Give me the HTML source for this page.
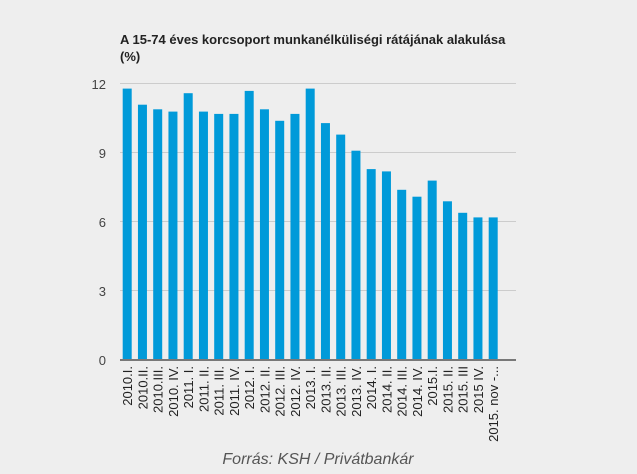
<!DOCTYPE html>
<html><head><meta charset="utf-8"><style>
html,body{margin:0;padding:0;background:#eeeeee;}
</style></head><body>
<svg width="637" height="469" xmlns="http://www.w3.org/2000/svg" font-family="Liberation Sans, Arial, sans-serif">
<rect width="637" height="469" fill="#eeeeee"/>
<text x="120" y="44" font-size="13" font-weight="bold" fill="#222">A 15-74 éves korcsoport munkanélküliségi rátájának alakulása</text>
<text x="120" y="61" font-size="13" font-weight="bold" fill="#222">(%)</text>
<g stroke="#cccccc" stroke-width="1">
<line x1="120" x2="516" y1="83.5" y2="83.5"/>
<line x1="120" x2="516" y1="152.5" y2="152.5"/>
<line x1="120" x2="516" y1="221.5" y2="221.5"/>
<line x1="120" x2="516" y1="290.5" y2="290.5"/>
</g>
<g font-size="13" fill="#444" text-anchor="end">
<text x="106" y="89">12</text>
<text x="106" y="158">9</text>
<text x="106" y="227">6</text>
<text x="106" y="296">3</text>
<text x="106" y="365">0</text>
</g>
<g fill="#009ad9">
<rect x="122.7" y="88.6" width="9" height="270.4"/>
<rect x="137.95" y="104.7" width="9" height="254.3"/>
<rect x="153.2" y="109.3" width="9" height="249.7"/>
<rect x="168.45" y="111.6" width="9" height="247.4"/>
<rect x="183.7" y="93.2" width="9" height="265.8"/>
<rect x="198.95" y="111.6" width="9" height="247.4"/>
<rect x="214.2" y="113.9" width="9" height="245.1"/>
<rect x="229.45" y="113.9" width="9" height="245.1"/>
<rect x="244.7" y="90.9" width="9" height="268.1"/>
<rect x="259.95" y="109.3" width="9" height="249.7"/>
<rect x="275.2" y="120.8" width="9" height="238.2"/>
<rect x="290.45" y="113.9" width="9" height="245.1"/>
<rect x="305.7" y="88.6" width="9" height="270.4"/>
<rect x="320.95" y="123.1" width="9" height="235.9"/>
<rect x="336.2" y="134.6" width="9" height="224.4"/>
<rect x="351.45" y="150.7" width="9" height="208.3"/>
<rect x="366.7" y="169.1" width="9" height="189.9"/>
<rect x="381.95" y="171.4" width="9" height="187.6"/>
<rect x="397.2" y="189.8" width="9" height="169.2"/>
<rect x="412.45" y="196.7" width="9" height="162.3"/>
<rect x="427.7" y="180.6" width="9" height="178.4"/>
<rect x="442.95" y="201.3" width="9" height="157.7"/>
<rect x="458.2" y="212.8" width="9" height="146.2"/>
<rect x="473.45" y="217.4" width="9" height="141.6"/>
<rect x="488.7" y="217.4" width="9" height="141.6"/>
</g>
<line x1="120" x2="516" y1="360" y2="360" stroke="#333" stroke-width="1.2"/>
<g font-size="13" fill="#222" text-anchor="end">
<text transform="translate(132,366) rotate(-90)">2010.I.</text>
<text transform="translate(147.25,366) rotate(-90)">2010.II.</text>
<text transform="translate(162.5,366) rotate(-90)">2010.III.</text>
<text transform="translate(177.75,366) rotate(-90)">2010. IV.</text>
<text transform="translate(193,366) rotate(-90)">2011. I.</text>
<text transform="translate(208.25,366) rotate(-90)">2011. II.</text>
<text transform="translate(223.5,366) rotate(-90)">2011. III.</text>
<text transform="translate(238.75,366) rotate(-90)">2011. IV.</text>
<text transform="translate(254,366) rotate(-90)">2012. I.</text>
<text transform="translate(269.25,366) rotate(-90)">2012. II.</text>
<text transform="translate(284.5,366) rotate(-90)">2012. III.</text>
<text transform="translate(299.75,366) rotate(-90)">2012. IV.</text>
<text transform="translate(315,366) rotate(-90)">2013. I.</text>
<text transform="translate(330.25,366) rotate(-90)">2013. II.</text>
<text transform="translate(345.5,366) rotate(-90)">2013. III.</text>
<text transform="translate(360.75,366) rotate(-90)">2013. IV.</text>
<text transform="translate(376,366) rotate(-90)">2014. I.</text>
<text transform="translate(391.25,366) rotate(-90)">2014. II.</text>
<text transform="translate(406.5,366) rotate(-90)">2014. III.</text>
<text transform="translate(421.75,366) rotate(-90)">2014. IV.</text>
<text transform="translate(437,366) rotate(-90)">2015.I.</text>
<text transform="translate(452.25,366) rotate(-90)">2015. II.</text>
<text transform="translate(467.5,366) rotate(-90)">2015. III</text>
<text transform="translate(482.75,366) rotate(-90)">2015 IV.</text>
<text transform="translate(498,366) rotate(-90)">2015. nov -...</text>
</g>
<text x="318" y="464" font-size="16" font-style="italic" fill="#555" text-anchor="middle">Forrás: KSH / Privátbankár</text>
</svg>
</body></html>
